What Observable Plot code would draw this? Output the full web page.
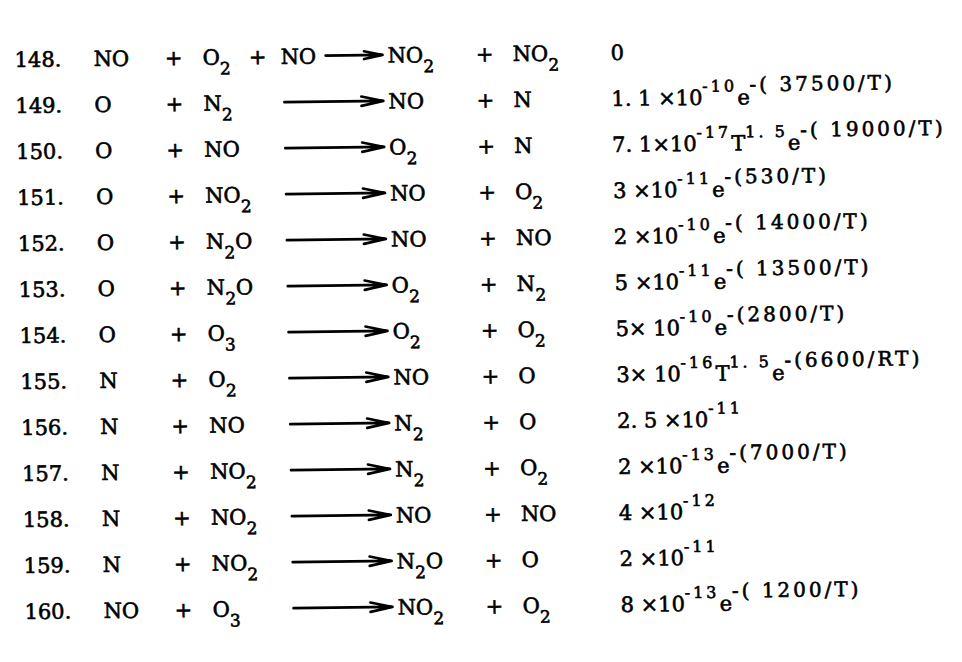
<!DOCTYPE html>
<html><head><meta charset="utf-8">
<script src="https://cdn.jsdelivr.net/npm/d3@7"></script>
<script src="https://cdn.jsdelivr.net/npm/@observablehq/plot@0.6"></script>
<style>
html,body{margin:0;padding:0;background:#fff;}
#chart svg{display:block;transform-origin:0 0;transform:matrix(1,-0.012,0.018,1,0,0);}
#chart text{stroke:#000;stroke-width:0.6px;}
</style></head><body><div id="chart"></div>
<script>
// ---- table content ----
const numbers   = ["148.","149.","150.","151.","152.","153.","154.","155.","156.","157.","158.","159.","160."];
const reactantA = ["NO","O","O","O","O","O","O","N","N","N","N","N","NO"];
const reactantB = ["O_2","N_2","NO","NO_2","N_2O","N_2O","O_3","O_2","NO","NO_2","NO_2","NO_2","O_3"];
const reactantC = ["NO","","","","","","","","","","","",""];
const productA  = ["NO_2","NO","O_2","NO","NO","O_2","O_2","NO","N_2","N_2","NO","N_2O","NO_2"];
const productB  = ["NO_2","N","N","O_2","NO","N_2","O_2","O","O","O_2","NO","O","O_2"];
// ^{..} small exponent, *{..} large exponent
const rates = [
  "0",
  "1. 1 ×10^{-10}e*{-( 37500/T)}",
  "7. 1×10^{-17}T^{1. 5}e*{-( 19000/T)}",
  "3 ×10^{-11}e*{-(530/T)}",
  "2 ×10^{-10}e*{-( 14000/T)}",
  "5 ×10^{-11}e*{-( 13500/T)}",
  "5× 10^{-10}e*{-(2800/T)}",
  "3× 10^{-16}T^{1. 5}e*{-(6600/RT)}",
  "2. 5 ×10^{-11}",
  "2 ×10^{-13}e*{-(7000/T)}",
  "4 ×10^{-12}",
  "2 ×10^{-11}",
  "8 ×10^{-13}e*{-( 1200/T)}"
];

const rows = numbers.map((n, i) => ({n, a: reactantA[i], b: reactantB[i], c: reactantC[i], p: productA[i], q: productB[i], k: rates[i]}));

// ---- layout (column anchors in px) ----
const COL = {num: 13, a: 92, plus1: 172, b: 201, plus2: 256, c: 279, arrow: 282, arrow148: 324, arrowEnd: 381, p: 386, plus3: 483, q: 511, k: 609};
const FONT = {fontFamily: "DejaVu Serif", fontSize: 21, fill: "black"};

const col = (key, x) => Plot.text(rows.filter(d => d[key]), {x: () => x, y: "n", text: key, textAnchor: "start", ...FONT});
const plus = (x, filter) => Plot.text(rows.filter(filter), {x: () => x, y: "n", text: () => "+", textAnchor: "middle", ...FONT});

const chart = Plot.plot({
  width: 962, height: 662,
  margin: 0,
  x: {type: "linear", domain: [0, 962], range: [0, 962], axis: null},
  y: {type: "point", domain: numbers, range: [32, 640], axis: null},
  style: {background: "white", fontFamily: "DejaVu Serif"},
  marks: [
    col("n", COL.num),
    col("a", COL.a),
    plus(COL.plus1, () => true),
    col("b", COL.b),
    plus(COL.plus2, d => d.c),
    col("c", COL.c),
    Plot.arrow(rows, {
      x1: d => d.c ? COL.arrow148 : COL.arrow, x2: () => COL.arrowEnd,
      y1: "n", y2: "n", dy: -1,
      stroke: "black", strokeWidth: 2.6, headLength: 13, headAngle: 24
    }),
    col("p", COL.p),
    plus(COL.plus3, () => true),
    col("q", COL.q),
    col("k", COL.k)
  ]
});

// ---- rich text: _x subscript, ^{..} small superscript, *{..} large superscript ----
function richify(el) {
  const s = el.textContent;
  if (!/[_^*]/.test(s)) return;
  const segs = [];
  let i = 0, buf = "";
  const push = (t, shift, size, ls) => { if (t) segs.push({t, shift, size, ls}); };
  while (i < s.length) {
    const ch = s[i];
    if (ch === "_") { push(buf, 0); buf = ""; push(s[i + 1], 10, 17); i += 2; }
    else if ((ch === "^" || ch === "*") && s[i + 1] === "{") {
      push(buf, 0); buf = "";
      const j = s.indexOf("}", i);
      const inner = s.slice(i + 2, j);
      if (ch === "^") push(inner, -13, 16, 3);
      else push(inner, -13, 20, 3);
      i = j + 1;
    } else { buf += ch; i++; }
  }
  push(buf, 0);
  el.textContent = "";
  let cur = 0;
  for (const seg of segs) {
    const ts = document.createElementNS("http://www.w3.org/2000/svg", "tspan");
    ts.setAttribute("dy", seg.shift - cur);
    cur = seg.shift;
    if (seg.size) ts.setAttribute("font-size", seg.size);
    if (seg.ls) ts.setAttribute("letter-spacing", seg.ls);
    ts.textContent = seg.t;
    el.appendChild(ts);
  }
}
chart.querySelectorAll("text").forEach(richify);

document.getElementById("chart").appendChild(chart);
</script></body></html>
